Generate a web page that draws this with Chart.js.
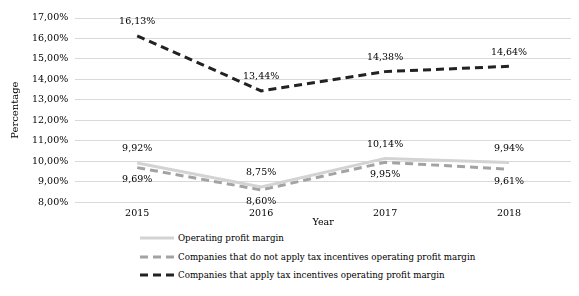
<!DOCTYPE html>
<html>
<head>
<meta charset="utf-8">
<script src="https://cdn.jsdelivr.net/npm/chart.js@4/dist/chart.umd.min.js"></script>
<style>
  html, body { margin: 0; padding: 0; background: #fff; }
  #wrap { position: relative; width: 579px; height: 228px; }
  #legend { position: absolute; left: 140px; top: 229px; font-family: "DejaVu Serif", serif; font-size: 8.7px; color: #000; }
  #legend div { height: 18.5px; display: flex; align-items: center; }
  #legend svg { margin-right: 4px; }
</style>
</head>
<body>
<div id="wrap"><canvas id="chart"></canvas></div>
<div id="legend"></div>
<script>
const years = ['2015', '2016', '2017', '2018'];
const operatingMargin = [9.92, 8.75, 10.14, 9.94];
const noIncentiveMargin = [9.69, 8.60, 9.95, 9.61];
const incentiveMargin = [16.13, 13.44, 14.38, 14.64];
const seriesNames = [
    'Operating profit margin',
    'Companies that do not apply tax incentives operating profit margin',
    'Companies that apply tax incentives operating profit margin'
];

const fmt = v => v.toFixed(2).replace('.', ',') + '%';

// draw value labels next to each point (above or below)
const valueLabels = {
    id: 'valueLabels',
    afterDatasetsDraw(chart) {
        const ctx = chart.ctx;
        ctx.save();
        ctx.font = '9.5px "DejaVu Serif", serif';
        ctx.fillStyle = '#000';
        ctx.textAlign = 'center';
        ctx.textBaseline = 'middle';
        chart.data.datasets.forEach((ds, i) => {
            const meta = chart.getDatasetMeta(i);
            meta.data.forEach((pt, j) => {
                const dy = ds.labelBelow ? 12 : -14;
                ctx.fillText(fmt(ds.data[j]), pt.x, pt.y + dy);
            });
        });
        ctx.restore();
    }
};

const chart = new Chart(document.getElementById('chart'), {
    type: 'line',
    data: {
        labels: years,
        datasets: [
            {
                label: seriesNames[0],
                data: operatingMargin,
                borderColor: '#d3d3d3',
                borderWidth: 3,
                pointRadius: 0,
                tension: 0
            },
            {
                label: seriesNames[1],
                data: noIncentiveMargin,
                borderColor: '#a3a3a3',
                borderWidth: 3,
                borderDash: [8, 5],
                pointRadius: 0,
                labelBelow: true,
                tension: 0
            },
            {
                label: seriesNames[2],
                data: incentiveMargin,
                borderColor: '#222222',
                borderWidth: 3,
                borderDash: [8, 5],
                pointRadius: 0,
                tension: 0
            }
        ]
    },
    options: {
        responsive: true,
        maintainAspectRatio: false,
        animation: false,
        layout: { padding: { top: 18, right: 8, left: 5 } },
        plugins: {
            legend: { display: false },
            tooltip: { enabled: false }
        },
        scales: {
            x: {
                offset: true,
                grid: { display: false, drawTicks: false },
                border: { display: false },
                ticks: { color: '#000', font: { family: 'DejaVu Serif', size: 9.5 }, padding: 6 },
                title: { display: true, text: 'Year', color: '#000', font: { family: 'DejaVu Serif', size: 9.5 }, padding: { top: -9, bottom: 0 } }
            },
            y: {
                min: 8,
                max: 17,
                ticks: { stepSize: 1, color: '#000', font: { family: 'DejaVu Serif', size: 9.5 }, callback: v => fmt(v), padding: 7 },
                grid: { color: '#d9d9d9', lineWidth: 1, drawTicks: false },
                border: { display: false },
                title: { display: true, text: 'Percentage', color: '#000', font: { family: 'DejaVu Serif', size: 10 }, padding: { bottom: 4 } }
            }
        }
    },
    plugins: [valueLabels]
});

// html legend, one line per series
const legend = document.getElementById('legend');
chart.data.datasets.forEach(ds => {
    const row = document.createElement('div');
    const dash = ds.borderDash ? ds.borderDash.join(' ') : '';
    row.innerHTML = '<svg width="34" height="6"><line x1="0" y1="3" x2="34" y2="3" stroke="' + ds.borderColor +
        '" stroke-width="3" stroke-dasharray="' + dash + '"/></svg><span>' + ds.label + '</span>';
    legend.appendChild(row);
});
</script>
</body>
</html>
